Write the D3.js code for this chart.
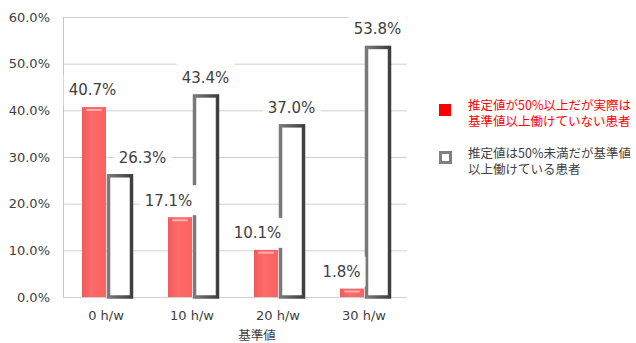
<!DOCTYPE html>
<html>
<head>
    <meta charset="UTF-8">
    <title>基準値別 推定値の外れ</title>
    <script src="https://d3js.org/d3.v7.min.js"></script>
    <style>
        body { margin: 0; background: #fff; }
        .tick text { font-family: "DejaVu Sans", sans-serif; fill: #404040; }
        .grid line { stroke: #d0d0d0; }
        .grid .domain { display: none; }
        .val { font-family: "DejaVu Sans", sans-serif; font-size: 15px; fill: #404040; }
        .legend text { font-family: "Noto Sans CJK JP", sans-serif; font-size: 12.5px; }
    </style>
</head>
<body>
<div id="chart"></div>
<script>
    // データ
    const categories = ["0 h/w", "10 h/w", "20 h/w", "30 h/w"];
    const overEst = [0.407, 0.171, 0.101, 0.018];   // 推定値が50%以上だが実際は基準値以上働けていない
    const underEst = [0.263, 0.434, 0.370, 0.538];  // 推定値は50%未満だが基準値以上働けている
    const yTicks = [0, 0.1, 0.2, 0.3, 0.4, 0.5, 0.6];
    const legendLabels = [
        ["推定値が50%以上だが実際は", "基準値以上働けていない患者"],
        ["推定値は50%未満だが基準値", "以上働けている患者"]
    ];

    // ラベルの横ずらし（元図の手動配置に合わせる）
    const redLabelDx = [-2, -12, -9, -11];
    const whiteLabelDx = [23, 0, 0, 0];

    const width = 636, height = 343;
    const plot = { left: 63, right: 407, top: 17, bottom: 297 };

    const svg = d3.select("#chart").append("svg")
        .attr("width", width).attr("height", height);

    const defs = svg.append("defs");
    const rg = defs.append("linearGradient").attr("id", "redFill");
    rg.append("stop").attr("offset", "0%").attr("stop-color", "#f25a5a");
    rg.append("stop").attr("offset", "40%").attr("stop-color", "#ff6a6a");
    rg.append("stop").attr("offset", "100%").attr("stop-color", "#fb6262");
    const wg = defs.append("linearGradient").attr("id", "greyStroke");
    wg.append("stop").attr("offset", "0%").attr("stop-color", "#7a7a7a");
    wg.append("stop").attr("offset", "100%").attr("stop-color", "#3f3f3f");

    const x = d3.scaleBand().domain(categories).range([plot.left, plot.right]);
    const xSub = d3.scaleBand().domain(["over", "under"]).range([19, 69]);
    const y = d3.scaleLinear().domain([0, 0.6]).range([plot.bottom, plot.top]);

    // グリッド線
    svg.append("g").attr("class", "grid")
        .attr("transform", `translate(${plot.left},0)`)
        .call(d3.axisLeft(y).tickValues(yTicks).tickSize(-(plot.right - plot.left)).tickFormat(""));

    // 縦軸線
    svg.append("line")
        .attr("x1", plot.left + 0.5).attr("x2", plot.left + 0.5)
        .attr("y1", plot.top).attr("y2", plot.bottom)
        .attr("stroke", "#c4c4c4");

    // Y軸ラベル
    const yAxis = svg.append("g")
        .attr("transform", `translate(${plot.left},0)`)
        .call(d3.axisLeft(y).tickValues(yTicks).tickSize(0).tickPadding(13)
            .tickFormat(d => (d * 100).toFixed(1) + "%"));
    yAxis.select(".domain").remove();
    yAxis.selectAll("text").attr("font-size", 13);

    // X軸ラベル
    const xAxis = svg.append("g")
        .attr("transform", `translate(0,${plot.bottom})`)
        .call(d3.axisBottom(x).tickSize(0).tickPadding(14));
    xAxis.select(".domain").remove();
    xAxis.selectAll("text").attr("font-size", 13);

    svg.append("text")
        .attr("x", 257).attr("y", 340)
        .attr("text-anchor", "middle")
        .attr("font-family", "Noto Sans CJK JP, sans-serif")
        .attr("font-size", 12.5).attr("fill", "#404040")
        .text("基準値");

    const bw = xSub.bandwidth();

    // 赤い棒
    const redBars = svg.append("g").selectAll("g")
        .data(overEst).enter().append("g");
    redBars.append("rect")
        .attr("x", (d, i) => x(categories[i]) + xSub("over"))
        .attr("y", d => y(d))
        .attr("width", bw - 1)
        .attr("height", d => y(0) - y(d))
        .attr("fill", "url(#redFill)");
    redBars.append("rect")
        .attr("x", (d, i) => x(categories[i]) + xSub("over") + 4)
        .attr("y", d => y(d) + 2)
        .attr("width", bw - 9)
        .attr("height", 2)
        .attr("rx", 1)
        .attr("fill", "#ffb0b0");

    // 白い棒（灰色の枠）
    svg.append("g").selectAll("rect")
        .data(underEst).enter().append("rect")
        .attr("x", (d, i) => x(categories[i]) + xSub("under") + 1.5)
        .attr("y", d => y(d) + 1.5)
        .attr("width", bw - 2)
        .attr("height", d => y(0) - y(d) - 1.5)
        .attr("fill", "#fff")
        .attr("stroke", "url(#greyStroke)")
        .attr("stroke-width", 3.5);

    // 値ラベル（白背景つき）
    const labels = [];
    overEst.forEach((v, i) => labels.push({
        v, cx: x(categories[i]) + xSub("over") + bw / 2 + redLabelDx[i]
    }));
    underEst.forEach((v, i) => labels.push({
        v, cx: x(categories[i]) + xSub("under") + bw / 2 + whiteLabelDx[i]
    }));

    const lab = svg.append("g").selectAll("g")
        .data(labels).enter().append("g")
        .attr("transform", d => `translate(${d.cx},${y(d.v) - 17})`);
    lab.append("rect").attr("fill", "#fff");
    const txt = lab.append("text").attr("class", "val")
        .attr("text-anchor", "middle").attr("dy", "0.36em")
        .text(d => (d.v * 100).toFixed(1) + "%");
    txt.each(function () {
        const w = this.getComputedTextLength();
        d3.select(this.parentNode).select("rect")
            .attr("x", -w / 2 - 5).attr("y", -15)
            .attr("width", w + 10).attr("height", 30);
    });

    // 凡例
    const legend = svg.append("g").attr("class", "legend");
    legend.append("rect")
        .attr("x", 439).attr("y", 104).attr("width", 12).attr("height", 12)
        .attr("fill", "#ff0000");
    legend.append("rect")
        .attr("x", 440.5).attr("y", 152.5).attr("width", 10).attr("height", 10)
        .attr("fill", "#fff").attr("stroke", "#808080").attr("stroke-width", 3);

    const lines = [];
    legendLabels.forEach((ls, i) => ls.forEach((t, j) => lines.push({
        t, y: (i === 0 ? 110 : 158) + j * 16, color: i === 0 ? "#ff0000" : "#404040"
    })));
    legend.selectAll("text")
        .data(lines).enter().append("text")
        .attr("x", 468)
        .attr("y", d => d.y)
        .attr("fill", d => d.color)
        .text(d => d.t);
</script>
</body>
</html>
